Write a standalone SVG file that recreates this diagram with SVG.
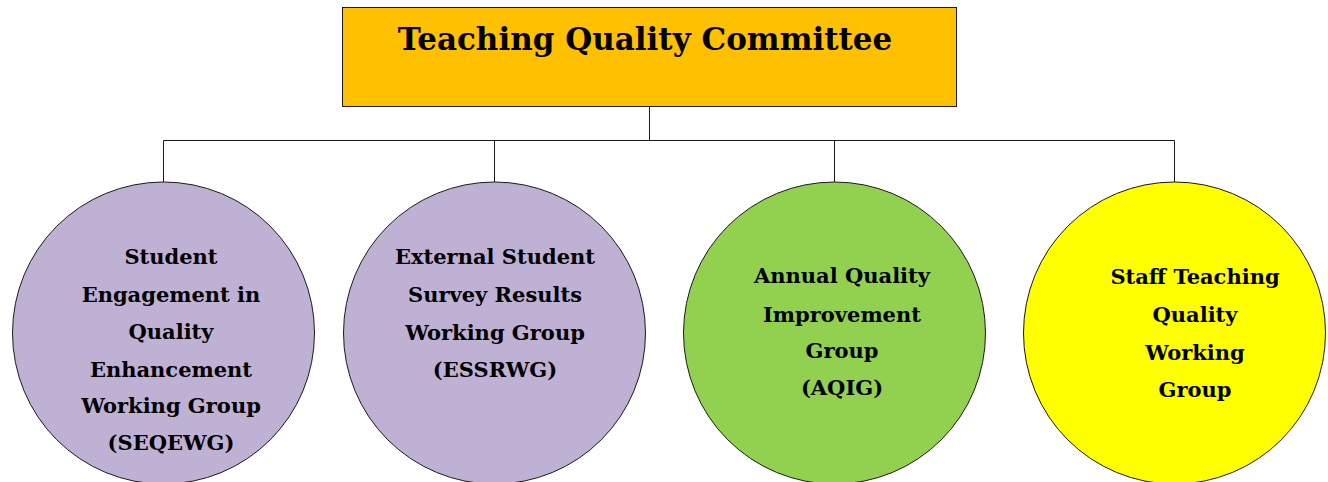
<svg xmlns="http://www.w3.org/2000/svg" width="1328" height="482" viewBox="0 0 1328 482">
<style>
.conn{fill:none;stroke:#1a1a1a;stroke-width:1}
.node{stroke:#1a1a1a;stroke-width:1}
.t{font-family:"DejaVu Serif","Liberation Serif",serif;font-weight:bold;fill:#000;text-anchor:middle}
.lbl{font-size:21px}
.title{font-size:31px}
</style>
<rect width="1328" height="482" fill="#ffffff"/>
<g id="connectors">
<path class="conn" d="M649.5 107 V140.5"/>
<path class="conn" d="M163.5 140.5 H1174.5"/>
<path class="conn" d="M163.5 140.5 V182"/>
<path class="conn" d="M494.5 140.5 V182"/>
<path class="conn" d="M834.5 140.5 V182"/>
<path class="conn" d="M1174.5 140.5 V182"/>
</g>
<g id="tqc">
<rect class="node" x="342.5" y="7.5" width="614" height="99" fill="#FFC000"/>
<text class="t title" x="645" y="50">Teaching Quality Committee</text>
</g>
<g id="seqewg">
<circle class="node" cx="163.5" cy="333" r="151" fill="#BFB1D4"/>
<text class="t lbl" x="171"><tspan x="171" y="264">Student</tspan><tspan x="171" y="302">Engagement in</tspan><tspan x="171" y="339">Quality</tspan><tspan x="171" y="377">Enhancement</tspan><tspan x="171" y="413">Working Group</tspan><tspan x="171" y="450">(SEQEWG)</tspan></text>
</g>
<g id="essrwg">
<circle class="node" cx="494.5" cy="333" r="151" fill="#BFB1D4"/>
<text class="t lbl"><tspan x="495" y="264">External Student</tspan><tspan x="495" y="302">Survey Results</tspan><tspan x="495" y="340">Working Group</tspan><tspan x="495" y="377">(ESSRWG)</tspan></text>
</g>
<g id="aqig">
<circle class="node" cx="834.5" cy="333" r="151" fill="#92D050"/>
<text class="t lbl"><tspan x="842" y="283">Annual Quality</tspan><tspan x="842" y="322">Improvement</tspan><tspan x="842" y="358">Group</tspan><tspan x="842" y="395">(AQIG)</tspan></text>
</g>
<g id="stqwg">
<circle class="node" cx="1174.5" cy="333" r="151" fill="#FFFF00"/>
<text class="t lbl"><tspan x="1195" y="284">Staff Teaching</tspan><tspan x="1195" y="322">Quality</tspan><tspan x="1195" y="360">Working</tspan><tspan x="1195" y="397">Group</tspan></text>
</g>
</svg>
